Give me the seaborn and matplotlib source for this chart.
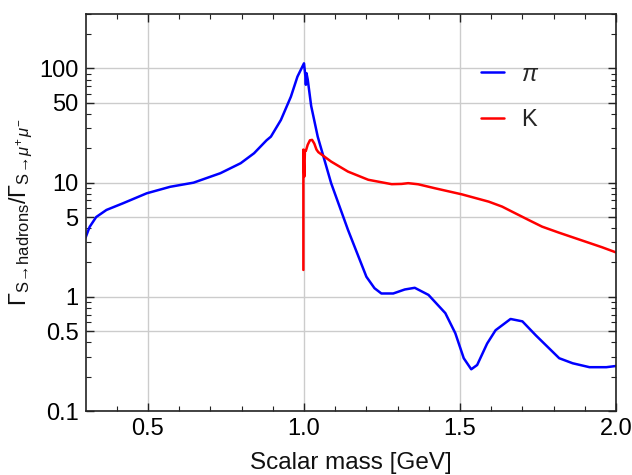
import numpy as np
import pandas as pd
import matplotlib
matplotlib.use("Agg")
import matplotlib.pyplot as plt
import seaborn as sns
from matplotlib.ticker import FixedLocator, NullFormatter, FixedFormatter

# ---- data ----
mass_pi = [0.300, 0.313, 0.334, 0.367, 0.420, 0.496, 0.571, 0.646, 0.732, 0.797,
           0.840, 0.880, 0.894, 0.926, 0.958, 0.979, 1.000, 1.004, 1.006, 1.008,
           1.012, 1.023, 1.044, 1.087, 1.141, 1.200, 1.226, 1.248, 1.286, 1.323,
           1.355, 1.399, 1.453, 1.485, 1.512, 1.536, 1.555, 1.587, 1.614, 1.662,
           1.700, 1.743, 1.818, 1.861, 1.915, 1.969, 2.000]
ratio_pi = [3.3, 4.1, 5.0, 5.77, 6.6, 8.07, 9.2, 10.0, 12.1, 14.8,
            18.1, 23.5, 25.3, 35.4, 56.6, 84.8, 111.0, 88.0, 72.0, 91.0,
            80.0, 47.0, 25.3, 9.9, 3.86, 1.5, 1.19, 1.07, 1.07, 1.16,
            1.2, 1.04, 0.72, 0.48, 0.29, 0.232, 0.253, 0.39, 0.51, 0.64,
            0.61, 0.46, 0.29, 0.262, 0.242, 0.242, 0.248]

mass_K = [0.998, 0.998, 1.001, 1.003, 1.006, 1.012, 1.019, 1.026, 1.033, 1.040,
          1.046, 1.087, 1.141, 1.206, 1.281, 1.313, 1.334, 1.366, 1.420, 1.506,
          1.592, 1.635, 1.667, 1.720, 1.763, 1.817, 1.870, 1.955, 2.000]
ratio_K = [1.72, 19.5, 11.3, 19.3, 19.0, 21.5, 23.5, 23.7, 22.0, 19.5,
           18.5, 15.3, 12.5, 10.6, 9.7, 9.75, 9.9, 9.68, 8.93, 7.9,
           6.82, 6.17, 5.57, 4.71, 4.12, 3.65, 3.26, 2.72, 2.45]

y_ticks = [0.1, 0.5, 1, 5, 10, 50, 100]
y_tick_labels = ["0.1", "0.5", "1", "5", "10", "50", "100"]
x_ticks = [0.5, 1.0, 1.5, 2.0]
x_tick_labels = ["0.5", "1.0", "1.5", "2.0"]

df = pd.concat([
    pd.DataFrame({"mass": mass_pi, "ratio": ratio_pi, "channel": r"$\pi$"}),
    pd.DataFrame({"mass": mass_K, "ratio": ratio_K, "channel": "K"}),
], ignore_index=True)

# ---- style ----
sns.set_theme(style="white")
plt.rcParams["font.family"] = ["Liberation Sans", "DejaVu Sans"]
plt.rcParams["mathtext.fontset"] = "custom"
plt.rcParams["mathtext.rm"] = "Liberation Sans"
plt.rcParams["mathtext.it"] = "Liberation Sans:italic"
plt.rcParams["mathtext.sf"] = "Liberation Sans"

fig = plt.figure(figsize=(6.32, 4.75), dpi=100)
ax = fig.add_axes([0.1354, 0.1347, 0.8393, 0.8358])

sns.lineplot(data=df, x="mass", y="ratio", hue="channel", sort=False,
             palette={r"$\pi$": "#0000ff", "K": "#ff0000"},
             linewidth=1.8, estimator=None, ax=ax, legend=True)

ax.set_yscale("log")
ax.set_xlim(0.3, 2.0)
ax.set_ylim(0.1, 300)

# ticks
ax.yaxis.set_major_locator(FixedLocator(y_ticks))
ax.yaxis.set_major_formatter(FixedFormatter(y_tick_labels))
minor_y = [v * d for d in (0.1, 1, 10, 100) for v in (2, 3, 4, 6, 7, 8, 9)]
minor_y = [v for v in minor_y if 0.1 < v <= 300]
ax.yaxis.set_minor_locator(FixedLocator(minor_y))
ax.yaxis.set_minor_formatter(NullFormatter())
ax.xaxis.set_major_locator(FixedLocator(x_ticks))
ax.xaxis.set_major_formatter(FixedFormatter(x_tick_labels))
ax.xaxis.set_minor_locator(FixedLocator([0.4, 0.6, 0.7, 0.8, 0.9, 1.1, 1.2, 1.3, 1.4, 1.6, 1.7, 1.8, 1.9]))

ax.tick_params(which="both", direction="in", top=True, right=True,
               bottom=True, left=True, color="#222222")
ax.tick_params(which="major", length=6, width=1.0, labelsize=17,
               labelcolor="#000000", pad=5)
ax.tick_params(which="minor", length=3.5, width=0.8)

ax.grid(True, which="major", color="#cccccc", linewidth=1.0)
ax.set_axisbelow(True)
for s in ax.spines.values():
    s.set_color("#222222")
    s.set_linewidth(1.2)

ax.set_xlabel("Scalar mass [GeV]", fontsize=17.5, color="#111111", labelpad=9)
ax.set_ylabel(r"$\Gamma_{\mathrm{S}\!\rightarrow\!\mathrm{hadrons}}/\Gamma_{\mathrm{S}\!\rightarrow\!\mu^{+}\,\mu^{-}}$",
              fontsize=17, color="#111111", labelpad=3)

leg = ax.legend(loc="upper left", bbox_to_anchor=(0.745, 0.875), frameon=False,
                fontsize=17, handlelength=1.0, handletextpad=0.7,
                labelspacing=1.0, borderpad=0, borderaxespad=0, title=None)

fig.savefig("out.png", dpi=100)
